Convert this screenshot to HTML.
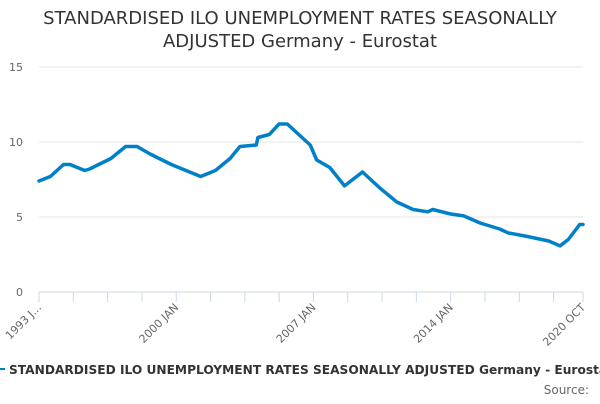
<!DOCTYPE html>
<html><head><meta charset="utf-8"><style>
body{margin:0;background:#fff;width:600px;height:400px;overflow:hidden;font-family:"DejaVu Sans","Liberation Sans",sans-serif;}
</style></head><body>
<svg width="600" height="400" id="c">
<text x="300" y="24" text-anchor="middle" font-size="18" fill="#333">STANDARDISED ILO UNEMPLOYMENT RATES SEASONALLY</text>
<text x="300" y="47" text-anchor="middle" font-size="18" fill="#333">ADJUSTED Germany - Eurostat</text>
<g id="grid"></g><g id="xax"></g><g id="series"></g>
<g>
<line x1="0" y1="369" x2="5" y2="369" stroke="#0080c8" stroke-width="2"/>
<text x="9" y="374" font-size="12.5" font-weight="bold" fill="#333" textLength="604" lengthAdjust="spacingAndGlyphs">STANDARDISED ILO UNEMPLOYMENT RATES SEASONALLY ADJUSTED Germany - Eurostat</text>
</g>
<text x="589" y="394" text-anchor="end" font-size="12" fill="#666">Source:</text>
</svg>
<script>
const months=[0,7,15,19,28,31,44,53,60,68,81,99,108,117,123,133,134,141,147,152,160,166,170,178,187,198,209,219,229,238,241,252,260,270,282,287,299,312,319,324,331,333];
const values=[7.4,7.7,8.5,8.5,8.1,8.2,8.9,9.7,9.7,9.2,8.5,7.7,8.1,8.9,9.7,9.8,10.3,10.5,11.2,11.2,10.4,9.8,8.8,8.3,7.07,8.0,6.9,6.0,5.5,5.35,5.5,5.2,5.07,4.6,4.2,3.95,3.7,3.4,3.07,3.5,4.5,4.5];
const yTicks=[0,5,10,15];
const xLabels=["1993 J...","2000 JAN","2007 JAN","2014 JAN","2020 OCT"];
const xLabelMonths=[0,84,168,252,333];
const ns="http://www.w3.org/2000/svg";
const X0=39,X1=583,Y0=292,YT=67,MAXM=333,MAXV=15;
const xs=m=>X0+(X1-X0)*m/MAXM, ys=v=>Y0-(Y0-YT)*v/MAXV;
function mk(t,a,p){const e=document.createElementNS(ns,t);for(const k in a)e.setAttribute(k,a[k]);p.appendChild(e);return e;}
const g=document.getElementById('grid');
yTicks.forEach(v=>{
 if(v>0){const l=mk('line',{x1:X0,x2:X1,y1:ys(v),y2:ys(v),stroke:'#e6e6e6'},g);
 
 }
 const t=mk('text',{x:23,y:ys(v)+4,'text-anchor':'end','font-size':11,fill:'#666'},g);t.textContent=v;
 
 
});
const xa=document.getElementById('xax');
const ax=mk('line',{x1:X0,x2:X1,y1:Y0,y2:Y0,stroke:'#ccd6eb'},xa);


for(let m=0;m<=MAXM;m+=21){mk('line',{x1:xs(m),x2:xs(m),y1:Y0,y2:Y0+10,stroke:'#ccd6eb'},xa);}
mk('line',{x1:xs(MAXM),x2:xs(MAXM),y1:Y0,y2:Y0+10,stroke:'#ccd6eb'},xa);
xLabels.forEach((s,i)=>{const x=xs(xLabelMonths[i]);
 const t=mk('text',{x:x+3,y:Y0+16,'text-anchor':'end','font-size':11,fill:'#666',transform:`rotate(-45 ${x+3} ${Y0+16})`},xa);t.textContent=s;
 
 
});
const p=mk('path',{d:months.map((m,i)=>(i?'L':'M')+xs(m).toFixed(1)+','+ys(values[i]).toFixed(1)).join(''),fill:'none',stroke:'#0080c8','stroke-width':3.5,'stroke-linejoin':'round','stroke-linecap':'round'},document.getElementById('series'));


</script>
</body></html>
